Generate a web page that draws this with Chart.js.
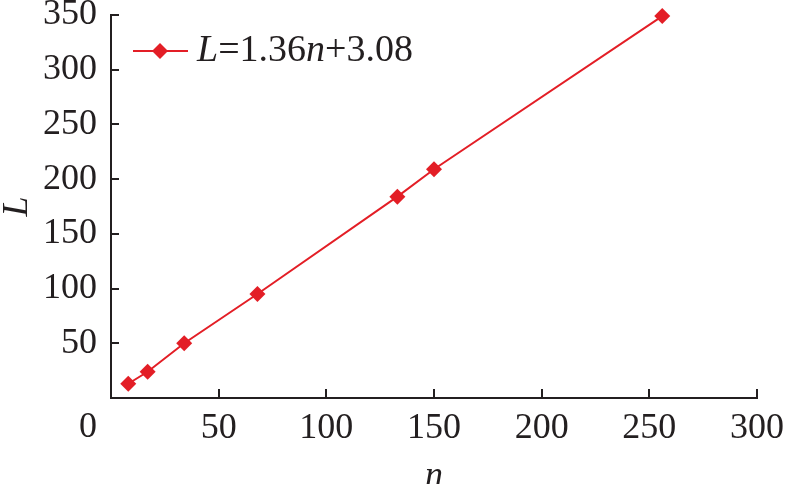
<!DOCTYPE html>
<html>
<head>
<meta charset="utf-8">
<script src="https://cdn.jsdelivr.net/npm/chart.js@4.4.1/dist/chart.umd.min.js"></script>
<style>
  body { margin: 0; background: #fff; }
  #wrap { width: 788px; height: 484px; }
</style>
</head>
<body>
<div id="wrap"><canvas id="graph" width="788" height="484"></canvas></div>
<script>
// data
var nValues = [8, 17, 34, 68, 133, 150, 256];
var lValues = [13, 24, 50, 95, 184, 209, 349];
var xTicks = [0, 50, 100, 150, 200, 250, 300];
var yTicks = [0, 50, 100, 150, 200, 250, 300, 350];

var ink = '#231f20';
var red = '#e31e26';
var serif = '"Liberation Serif", "Times New Roman", serif';

var points = [];
for (let i = 0; i < nValues.length; i++) {
    points.push({ x: nValues[i], y: lValues[i] })
}

// inward tick marks, shared origin "0", and the legend with italic letters
var extras = {
    id: 'extras',
    afterDraw: function (chart) {
        var ctx = chart.ctx;
        var xs = chart.scales.x, ys = chart.scales.y;
        var area = chart.chartArea;
        ctx.save();
        ctx.strokeStyle = ink;
        ctx.lineWidth = 2;
        ctx.beginPath();
        xTicks.forEach(function (v) {
            if (v === 0) return;
            var px = Math.round(xs.getPixelForValue(v));
            ctx.moveTo(px, area.bottom);
            ctx.lineTo(px, area.bottom - 9);
        });
        yTicks.forEach(function (v) {
            if (v === 0) return;
            var py = Math.round(ys.getPixelForValue(v));
            ctx.moveTo(area.left, py);
            ctx.lineTo(area.left + 8, py);
        });
        ctx.stroke();

        // origin label
        ctx.fillStyle = ink;
        ctx.font = '36px ' + serif;
        ctx.textAlign = 'center';
        ctx.textBaseline = 'middle';
        ctx.fillText('0', xs.getPixelForValue(0) - 23, area.bottom + 30);

        // legend
        var ly = area.top + 36;
        ctx.strokeStyle = red;
        ctx.lineWidth = 2;
        ctx.beginPath();
        ctx.moveTo(area.left + 22, ly);
        ctx.lineTo(area.left + 77, ly);
        ctx.stroke();
        ctx.fillStyle = red;
        ctx.beginPath();
        var cx = area.left + 49, r = 8;
        ctx.moveTo(cx, ly - r);
        ctx.lineTo(cx + r, ly);
        ctx.lineTo(cx, ly + r);
        ctx.lineTo(cx - r, ly);
        ctx.closePath();
        ctx.fill();

        var parts = [['L', true], ['=1.36', false], ['n', true], ['+3.08', false]];
        var tx = area.left + 86;
        ctx.fillStyle = ink;
        ctx.textAlign = 'left';
        parts.forEach(function (p) {
            ctx.font = (p[1] ? 'italic ' : '') + '38px ' + serif;
            ctx.fillText(p[0], tx, ly);
            tx += ctx.measureText(p[0]).width;
        });
        ctx.restore();
    }
}

var ctx = document.getElementById('graph').getContext('2d');
var data = {
    datasets: [{
        label: 'L=1.36n+3.08',
        data: points,
        borderColor: red,
        backgroundColor: red,
        borderWidth: 2,
        pointStyle: 'rectRot',
        pointRadius: 8,
        pointBorderWidth: 0,
        showLine: true,
        tension: 0,
        clip: false
    }]
}
var options = {
    responsive: false,
    animation: false,
    layout: { padding: { left: 0, top: 15, right: 31, bottom: 0 } },
    plugins: { legend: { display: false }, tooltip: { enabled: false } },
    scales: {
        x: {
            type: 'linear',
            min: 0,
            max: 300,
            afterBuildTicks: function (s) { s.ticks = xTicks.map(function (v) { return { value: v } }) },
            afterFit: function (s) {
                s.height = 86;
                s.paddingLeft = 0;
                s.paddingRight = 0;
            },
            grid: { display: false, drawTicks: false },
            border: { display: true, color: ink, width: 2 },
            ticks: {
                color: ink,
                padding: 9,
                maxRotation: 0,
                font: { family: serif, size: 36 },
                callback: function (v) { return v === 0 ? '' : v }
            },
            title: {
                display: true,
                text: 'n',
                color: ink,
                padding: 0,
                font: { family: serif, size: 36, style: 'italic', lineHeight: 0.4 }
            }
        },
        y: {
            type: 'linear',
            min: 0,
            max: 350,
            afterBuildTicks: function (s) { s.ticks = yTicks.map(function (v) { return { value: v } }) },
            afterFit: function (s) {
                s.width = 111;
                s.paddingTop = 0;
                s.paddingBottom = 0;
            },
            grid: { display: false, drawTicks: false },
            border: { display: true, color: ink, width: 2 },
            ticks: {
                color: ink,
                padding: 14,
                font: { family: serif, size: 36, lineHeight: 0.8 },
                callback: function (v) { return v === 0 ? '' : v }
            },
            title: {
                display: true,
                text: 'L',
                color: ink,
                padding: 0,
                font: { family: serif, size: 36, style: 'italic', lineHeight: 1 }
            }
        }
    }
}
var config = {
    type: 'scatter',
    data: data,
    options: options,
    plugins: [extras]
}
var graph = new Chart(ctx, config)
</script>
</body>
</html>
